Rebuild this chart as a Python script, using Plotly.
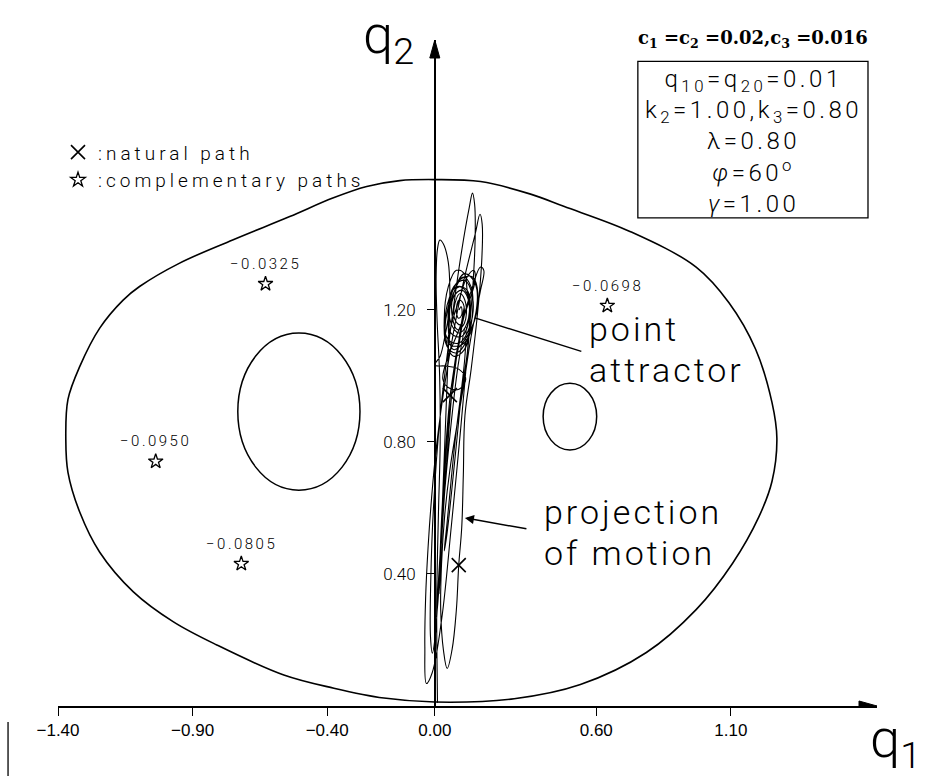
import plotly.graph_objects as go

# ---------------------------------------------------------------- data
X_RANGE = [-1.40, 1.643]
Y_RANGE = [0.0, 2.018]

X_TICKS = [-1.40, -0.90, -0.40, 0.00, 0.60, 1.10]
X_TICK_TEXT = ["−1.40", "−0.90", "−0.40", "0.00", "0.60", "1.10"]
Y_TICKS = [0.40, 0.80, 1.20]
Y_TICK_TEXT = ["0.40", "0.80", "1.20"]

# outer boundary of the admissible region (q1, q2)
BOUNDARY_Q1 = [0.000, -0.189, -0.375, -0.561, -0.810, -0.971, -1.120, -1.245,
               -1.319, -1.363, -1.371, -1.363, -1.319, -1.245, -1.158, -1.097,
               -0.948, -0.751, -0.539, -0.379, -0.253, -0.130, 0.000, 0.170,
               0.356, 0.479, 0.725, 0.971, 1.093, 1.192, 1.253, 1.271,
               1.253, 1.204, 1.106, 0.971, 0.786, 0.541, 0.295, 0.000]
BOUNDARY_Q2 = [0.012, 0.024, 0.054, 0.094, 0.185, 0.255, 0.346, 0.466,
               0.587, 0.708, 0.808, 0.929, 1.029, 1.145, 1.230, 1.271,
               1.342, 1.412, 1.483, 1.539, 1.574, 1.592, 1.595, 1.589,
               1.551, 1.514, 1.438, 1.330, 1.222, 1.081, 0.919, 0.811,
               0.681, 0.573, 0.432, 0.292, 0.162, 0.065, 0.022, 0.012]

# excluded elliptical islands: centre and half axes
HOLE_Q1 = [-0.505, 0.502]
HOLE_Q2 = [0.892, 0.877]
HOLE_HALF_W = [0.227, 0.0995]
HOLE_HALF_H = [0.238, 0.101]

# complementary paths
STAR_Q1 = [-0.629, 0.641, -1.037, -0.719]
STAR_Q2 = [1.279, 1.213, 0.741, 0.431]
STAR_LABELS = ["−0.0325", "−0.0698", "−0.0950", "−0.0805"]

# natural path points
NATURAL_Q1 = [0.089, 0.056]
NATURAL_Q2 = [0.427, 0.942]

# projection of the motion onto the (q1, q2) plane
TRAJECTORY = [
    # long swings of the transient
    (0.010, 0.010), (0.008, 0.150), (0.007, 0.300), (0.009, 0.420),
    (0.014, 0.600), (0.020, 0.800), (0.018, 1.000), (0.008, 1.180),
    (0.005, 1.300), (0.010, 1.385), (0.019, 1.412), (0.032, 1.400),
    (0.050, 1.345), (0.056, 1.250), (0.052, 1.120), (0.042, 0.900),
    (0.030, 0.650), (0.015, 0.380), (0.000, 0.200), (-0.009, 0.160),
    (-0.016, 0.210), (-0.015, 0.380), (-0.005, 0.600), (0.020, 0.880),
    (0.060, 1.150), (0.100, 1.380), (0.128, 1.510), (0.140, 1.554),
    (0.148, 1.520), (0.150, 1.420), (0.142, 1.280), (0.122, 1.080),
    (0.095, 0.830), (0.062, 0.550), (0.025, 0.260), (-0.010, 0.100),
    (-0.031, 0.068), (-0.037, 0.180), (-0.034, 0.330), (-0.025, 0.480),
    (-0.012, 0.630), (0.006, 0.785), (0.040, 0.990), (0.100, 1.260),
    (0.150, 1.430), (0.168, 1.490), (0.176, 1.460), (0.175, 1.360),
    (0.160, 1.200), (0.135, 1.020), (0.112, 0.880), (0.106, 0.700),
    (0.100, 0.540), (0.089, 0.427), (0.080, 0.290), (0.064, 0.170),
    (0.046, 0.114), (0.032, 0.170), (0.022, 0.290), (0.025, 0.430),
    (0.037, 0.580), (0.056, 0.715), (0.080, 0.840), (0.105, 0.960),
    (0.135, 1.120), (0.170, 1.260), (0.182, 1.320), (0.170, 1.330),
    (0.140, 1.270), (0.100, 1.150), (0.060, 0.960), (0.030, 0.640),
    (0.018, 0.420), (0.016, 0.340), (0.020, 0.400), (0.030, 0.600),
    (0.050, 0.850), (0.075, 1.020), (0.095, 1.140), (0.110, 1.210),
    (0.095, 1.120), (0.070, 1.000), (0.045, 0.750), (0.025, 0.500),
    (0.012, 0.320), (0.006, 0.270), (0.010, 0.330), (0.030, 0.580),
    (0.060, 0.850), (0.090, 1.050), (0.115, 1.150), (0.112, 1.060),
    (0.075, 0.800), (0.045, 0.550), (0.035, 0.470), (0.045, 0.520),
    (0.075, 0.750), (0.100, 0.950), (0.125, 1.100), (0.130, 1.200),
    # settling into the attractor
    (0.120, 1.260), (0.110, 1.310), (0.080, 1.320), (0.050, 1.270),
    (0.035, 1.170), (0.045, 1.090), (0.080, 1.070), (0.120, 1.110),
    (0.140, 1.190), (0.135, 1.270), (0.105, 1.300), (0.070, 1.250),
    (0.040, 1.130), (0.020, 1.060), (0.000, 1.033), (0.040, 1.030),
    (0.090, 1.020), (0.115, 0.990), (0.090, 0.960), (0.050, 0.965),
    (0.030, 0.990), (0.050, 1.060), (0.085, 1.130), (0.125, 1.220),
    (0.150, 1.290), (0.145, 1.320), (0.120, 1.300), (0.090, 1.230),
    (0.060, 1.150), (0.050, 1.100), (0.075, 1.090),
    (0.110, 1.100), (0.150, 1.180), (0.150, 1.280), (0.110, 1.310),
    (0.070, 1.250), (0.050, 1.150), (0.070, 1.080), (0.120, 1.120),
    (0.160, 1.220), (0.140, 1.300), (0.090, 1.290), (0.050, 1.210),
    (0.040, 1.120), (0.070, 1.060), (0.110, 1.080), (0.130, 1.170),
    (0.120, 1.260), (0.080, 1.270), (0.040, 1.190), (0.050, 1.110),
    (0.090, 1.100), (0.130, 1.150), (0.140, 1.240), (0.110, 1.290),
    (0.070, 1.270), (0.050, 1.200), (0.060, 1.130), (0.100, 1.120),
    (0.130, 1.190), (0.120, 1.250), (0.090, 1.270), (0.060, 1.230),
    (0.060, 1.160), (0.090, 1.130), (0.120, 1.160), (0.125, 1.230),
    (0.100, 1.260), (0.070, 1.240), (0.065, 1.180), (0.085, 1.140),
    (0.110, 1.160), (0.115, 1.220), (0.095, 1.250), (0.075, 1.220),
    (0.075, 1.170), (0.095, 1.155), (0.108, 1.180), (0.105, 1.220),
    (0.090, 1.230), (0.080, 1.200), (0.088, 1.175), (0.100, 1.185),
    (0.098, 1.210), (0.090, 1.200),
]

TITLE_TEXT = "c<sub>1</sub> =c<sub>2</sub> =0.02,c<sub>3</sub> =0.016"
PARAM_LINES = [
    "q<sub>10</sub>=q<sub>20</sub>=0.01",
    "k<sub>2</sub>=1.00,k<sub>3</sub>=0.80",
    "λ=0.80",
    "<i>φ</i>=60<sup>o</sup>",
    "<i>γ</i>=1.00",
]

# ---------------------------------------------------------------- styling
INK = "black"
THIN = "Roboto, 'Open Sans', sans-serif"
NARROW = "'Liberation Sans Narrow', 'Liberation Sans', sans-serif"


def spaced(text, px):
    return f'<span style="letter-spacing:{px}px">{text}</span>'


fig = go.Figure()

fig.add_trace(go.Scatter(
    x=BOUNDARY_Q1, y=BOUNDARY_Q2, mode="lines",
    line=dict(color=INK, width=1.6, shape="spline", smoothing=1.0),
    showlegend=False, hoverinfo="skip"))

fig.add_trace(go.Scatter(
    x=[p[0] for p in TRAJECTORY], y=[p[1] for p in TRAJECTORY], mode="lines",
    line=dict(color=INK, width=1.1, shape="spline", smoothing=1.1),
    showlegend=False, hoverinfo="skip"))

fig.add_trace(go.Scatter(
    x=NATURAL_Q1, y=NATURAL_Q2, mode="markers",
    marker=dict(symbol="x-thin-open", size=14, color=INK, line=dict(color=INK, width=1.6)),
    name=spaced(":natural path", 4), hoverinfo="skip"))

fig.add_trace(go.Scatter(
    x=STAR_Q1, y=STAR_Q2, mode="markers",
    marker=dict(symbol="star-open", size=11, color=INK, line=dict(color=INK, width=1.3)),
    name=spaced(":complementary paths", 4), hoverinfo="skip"))

shapes = []
for cx, cy, rx, ry in zip(HOLE_Q1, HOLE_Q2, HOLE_HALF_W, HOLE_HALF_H):
    shapes.append(dict(type="circle", xref="x", yref="y",
                       x0=cx - rx, x1=cx + rx, y0=cy - ry, y1=cy + ry,
                       line=dict(color=INK, width=1.5)))

# arrow heads at the ends of both axes
shapes.append(dict(type="path", xref="x", yref="y", xsizemode="pixel", ysizemode="pixel",
                   xanchor=X_RANGE[1], yanchor=0, path="M0,0 L-18,5 L-18,-5 Z",
                   fillcolor=INK, line=dict(color=INK, width=1)))
shapes.append(dict(type="path", xref="x", yref="y", xsizemode="pixel", ysizemode="pixel",
                   xanchor=0, yanchor=Y_RANGE[1], path="M0,0 L-5,-18 L5,-18 Z",
                   fillcolor=INK, line=dict(color=INK, width=1)))

# parameter box
shapes.append(dict(type="rect", xref="paper", yref="paper",
                   x0=0.708, x1=0.989, y0=0.733, y1=0.968,
                   line=dict(color=INK, width=1.3)))

# page edge mark
shapes.append(dict(type="line", xref="paper", yref="paper",
                   x0=-0.061, x1=-0.061, y0=-0.024, y1=-0.107,
                   line=dict(color=INK, width=1.3)))

annotations = []
for q1, q2, lab in zip(STAR_Q1, STAR_Q2, STAR_LABELS):
    annotations.append(dict(x=q1, y=q2, xref="x", yref="y", text=spaced(lab, 2.5),
                            showarrow=False, yshift=20, xanchor="center", yanchor="middle",
                            font=dict(family=THIN, size=15, color=INK, weight=300)))

annotations.append(dict(x=0.8486, y=1.001, xref="paper", yref="paper", text=TITLE_TEXT,
                        showarrow=False, xanchor="center", yanchor="middle",
                        font=dict(family="'DejaVu Serif', serif", size=18, color=INK, weight="bold")))

annotations.append(dict(x=0.8486, y=0.848, xref="paper", yref="paper",
                        text=spaced("<br>".join(PARAM_LINES), 3.5),
                        showarrow=False, xanchor="center", yanchor="middle", align="center",
                        font=dict(family=THIN, size=24, color=INK, weight=300)))

# axis names
annotations.append(dict(x=0.403, y=1.003, xref="paper", yref="paper",
                        text="q<sub>2</sub>", showarrow=False,
                        xanchor="center", yanchor="middle",
                        font=dict(family=THIN, size=54, color=INK, weight=300)))
annotations.append(dict(x=1.022, y=-0.054, xref="paper", yref="paper",
                        text="q<sub>1</sub>", showarrow=False,
                        xanchor="center", yanchor="middle",
                        font=dict(family=THIN, size=54, color=INK, weight=300)))

# call-outs
big = dict(family=THIN, size=34, color=INK, weight=300)
for txt, q1, q2 in [("point", 0.565, 1.142), ("attractor", 0.565, 1.018),
                    ("projection", 0.398, 0.588), ("of motion", 0.398, 0.464)]:
    annotations.append(dict(x=q1, y=q2, xref="x", yref="y", text=spaced(txt, 3),
                            showarrow=False, xanchor="left", yanchor="middle", font=big))

annotations.append(dict(x=0.149, y=1.176, xref="x", yref="y", ax=0.55, ay=1.073,
                        axref="x", ayref="y", text="", showarrow=True,
                        arrowhead=0, arrowwidth=1.5, arrowcolor=INK, standoff=0))
annotations.append(dict(x=0.112, y=0.570, xref="x", yref="y", ax=0.346, ay=0.536,
                        axref="x", ayref="y", text="", showarrow=True,
                        arrowhead=2, arrowsize=1.2, arrowwidth=1.5, arrowcolor=INK, standoff=0))

fig.update_layout(
    width=925, height=776,
    margin=dict(l=58, r=48, t=40, b=70),
    paper_bgcolor="white", plot_bgcolor="white",
    shapes=shapes, annotations=annotations,
    showlegend=True,
    legend=dict(x=0.0, y=0.86, xanchor="left", yanchor="top",
                bgcolor="rgba(0,0,0,0)", tracegroupgap=0,
                font=dict(family=THIN, size=19, color=INK, weight=300)),
    xaxis=dict(range=X_RANGE, showgrid=False, zeroline=False,
               showline=True, linecolor=INK, linewidth=1.5,
               ticks="outside", ticklen=8, tickwidth=1.3, tickcolor=INK,
               tickvals=X_TICKS, ticktext=X_TICK_TEXT,
               tickfont=dict(family=NARROW, size=17, color=INK)),
    yaxis=dict(range=Y_RANGE, showgrid=False, zeroline=False,
               anchor="free",
               position=(0 - X_RANGE[0]) / (X_RANGE[1] - X_RANGE[0]),
               showline=True, linecolor=INK, linewidth=1.5,
               ticks="outside", ticklen=7, tickwidth=1.3, tickcolor=INK,
               tickvals=Y_TICKS, ticktext=Y_TICK_TEXT, ticklabelstandoff=8,
               tickfont=dict(family=THIN, size=17, color=INK, weight=300)),
)

fig.write_html("out.html")
